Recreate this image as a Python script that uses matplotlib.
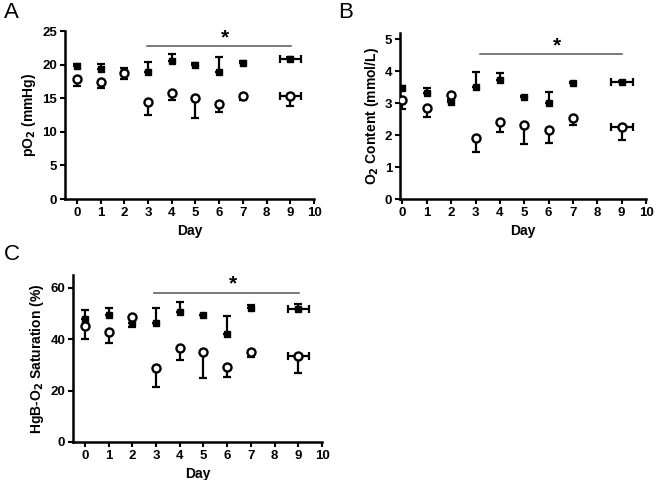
import numpy as np
import matplotlib.pyplot as plt

plt.rcParams['font.family'] = ['Liberation Sans', 'DejaVu Sans']

days = [0, 1, 2, 3, 4, 5, 6, 7, 9]
day9_xerr = 0.45

# panel A: pO2 (mmHg)
po2_filled = [19.8, 19.4, 18.9, 18.9, 20.5, 19.9, 18.9, 20.3, 20.8]
po2_filled_up = [0.3, 0.7, 0.6, 1.5, 1.1, 0.3, 2.2, 0.2, 0.3]
po2_open = [17.9, 17.4, 18.8, 14.4, 15.8, 15.0, 14.2, 15.4, 15.4]
po2_open_down = [1.1, 0.9, 1.0, 1.9, 1.0, 2.9, 1.3, 0.6, 1.6]

# panel B: O2 content (mmol/L)
o2c_filled = [3.47, 3.31, 3.05, 3.5, 3.72, 3.19, 3.0, 3.62, 3.66]
o2c_filled_up = [0.06, 0.16, 0.05, 0.47, 0.22, 0.05, 0.34, 0.05, 0.03]
o2c_open = [3.09, 2.84, 3.25, 1.9, 2.41, 2.31, 2.16, 2.53, 2.25]
o2c_open_down = [0.28, 0.27, 0.15, 0.42, 0.32, 0.59, 0.42, 0.22, 0.41]

# panel C: HgB-O2 saturation (%)
sat_filled = [47.8, 49.5, 46.5, 46.3, 50.5, 49.3, 42.1, 52.3, 51.8]
sat_filled_up = [3.7, 2.5, 1.5, 5.7, 4.0, 0.3, 6.8, 1.2, 2.0]
sat_open = [45.2, 43.0, 48.6, 28.7, 36.5, 35.2, 29.3, 35.2, 33.5]
sat_open_down = [5.0, 4.5, 3.9, 7.2, 4.6, 10.4, 3.9, 2.2, 6.5]

W, H = 656, 480
fig = plt.figure(figsize=(W / 100, H / 100), dpi=100)
bar_kw = dict(fmt='none', ecolor='black', elinewidth=1.6, capsize=2.8, capthick=1.6)


def px_axes(left, right, bottom, top):
    return fig.add_axes([left / W, 1 - bottom / H, (right - left) / W, (bottom - top) / H])


def series(ax, y, err, up, marker_kw, z):
    # vertical bars only one side (up for filled, down for open)
    x_e = [d for d, e in zip(days, err) if e > 0.02]
    y_e = [v for v, e in zip(y, err) if e > 0.02]
    e_e = [e for e in err if e > 0.02]
    zero = [0] * len(e_e)
    yerr = [zero, e_e] if up else [e_e, zero]
    ax.errorbar(x_e, y_e, yerr=yerr, zorder=z, **bar_kw)
    # horizontal bar on the last (day 9) point
    ax.errorbar([days[-1]], [y[-1]], xerr=day9_xerr, zorder=z, **bar_kw)
    ax.plot(days, y, ls='none', zorder=z + 0.5, **marker_kw)


def panel(ax, filled, filled_up, opened, open_down, xlim, ylim, yticks,
          ylabel, sig, letter, letter_xy):
    series(ax, filled, filled_up, True,
           dict(marker='s', ms=4.6, color='black'), 3)
    series(ax, opened, open_down, False,
           dict(marker='o', ms=5.8, mfc='white', mec='black', mew=1.7), 4)
    x0, x1, y, sx, sy = sig
    ax.plot([x0, x1], [y, y], color='#555555', lw=1.1, zorder=2)
    ax.text(sx, sy, '*', ha='center', va='center', fontsize=15, fontweight='bold')
    ax.set_xlim(*xlim)
    ax.set_ylim(*ylim)
    ax.set_xticks(range(11))
    ax.set_yticks(yticks)
    ax.spines['top'].set_visible(False)
    ax.spines['right'].set_visible(False)
    for s in ('left', 'bottom'):
        ax.spines[s].set_linewidth(1.8)
    ax.tick_params(direction='out', length=3.5, width=1.5, labelsize=9.5, pad=2)
    for t in ax.get_xticklabels() + ax.get_yticklabels():
        t.set_fontweight('bold')
    ax.set_xlabel('Day', fontsize=10, fontweight='bold', labelpad=4)
    ax.set_ylabel(ylabel, fontsize=10, fontweight='bold', labelpad=3)
    fig.text(letter_xy[0] / W, 1 - letter_xy[1] / H, letter, fontsize=16,
             ha='left', va='center')


axA = px_axes(65, 314, 199, 31)
panel(axA, po2_filled, po2_filled_up, po2_open, po2_open_down,
      (-0.5, 10), (0, 25), range(0, 26, 5), 'pO$_\\mathbf{2}$ (mmHg)',
      (2.95, 9.05, 22.8, 6.25, 24.0), 'A', (4, 13))

axB = px_axes(400, 646, 199, 33)
panel(axB, o2c_filled, o2c_filled_up, o2c_open, o2c_open_down,
      (-0.1, 10), (0, 5.2), range(0, 6), 'O$_\\mathbf{2}$ Content (mmol/L)',
      (3.2, 9.0, 4.53, 6.35, 4.8), 'B', (338, 13))

axC = px_axes(73, 322, 442, 275)
panel(axC, sat_filled, sat_filled_up, sat_open, sat_open_down,
      (-0.5, 10), (0, 65), range(0, 61, 20), 'HgB-O$_\\mathbf{2}$ Saturation (%)',
      (2.9, 9.05, 58, 6.25, 61.5), 'C', (4, 255))

fig.savefig('out.png', dpi=100)
